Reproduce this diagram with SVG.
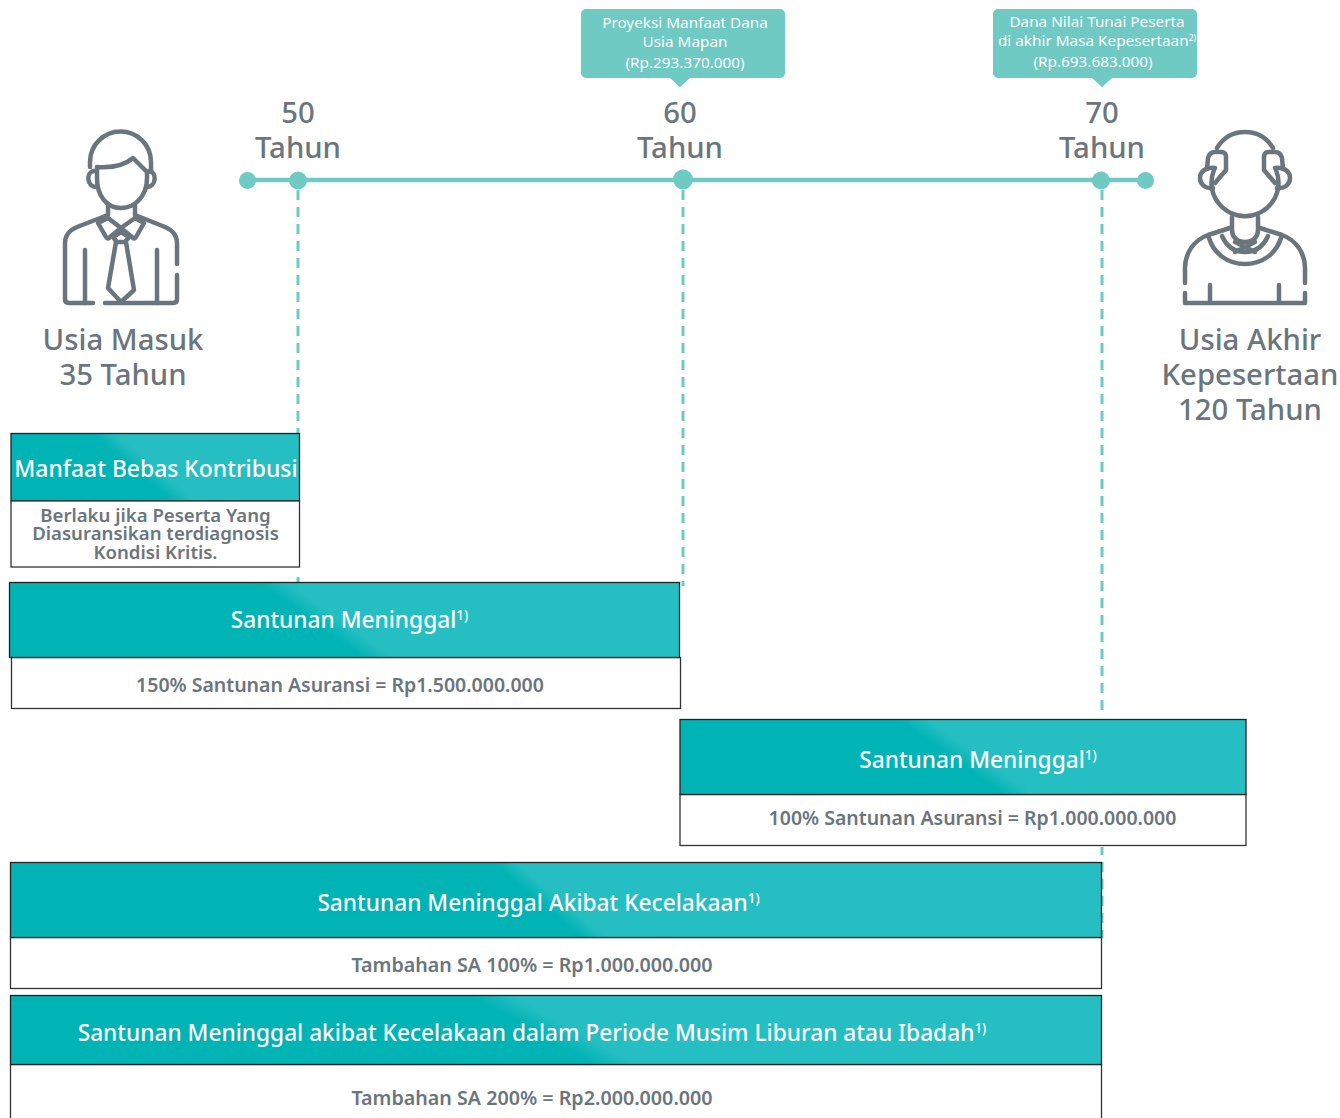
<svg xmlns="http://www.w3.org/2000/svg" width="1340" height="1118" viewBox="0 0 1340 1118">
<defs>
<linearGradient id="gw" gradientUnits="userSpaceOnUse" x1="138" y1="473" x2="148" y2="461"><stop offset="0" stop-color="#00b3b5"/><stop offset="1" stop-color="#25bec2"/></linearGradient>
<linearGradient id="g150" gradientUnits="userSpaceOnUse" x1="320" y1="627" x2="330" y2="613"><stop offset="0" stop-color="#00b3b5"/><stop offset="1" stop-color="#25bec2"/></linearGradient>
<linearGradient id="g100" gradientUnits="userSpaceOnUse" x1="960" y1="764" x2="970" y2="750"><stop offset="0" stop-color="#00b3b5"/><stop offset="1" stop-color="#25bec2"/></linearGradient>
<linearGradient id="ga" gradientUnits="userSpaceOnUse" x1="544" y1="906" x2="554" y2="894"><stop offset="0" stop-color="#00b3b5"/><stop offset="1" stop-color="#25bec2"/></linearGradient>
<linearGradient id="gh" gradientUnits="userSpaceOnUse" x1="548" y1="1039" x2="558" y2="1021"><stop offset="0" stop-color="#00b3b5"/><stop offset="1" stop-color="#25bec2"/></linearGradient>
</defs>
<style>
text{font-family:"Noto Sans","Open Sans","Liberation Sans",sans-serif;text-anchor:middle}
.g{fill:#6b757d}
.w{fill:#fff}
.bar{stroke:#222;stroke-width:1.3}
.box{fill:#fff;stroke:#333;stroke-width:1.3}
.ic{fill:none;stroke:#6b757d;stroke-width:4.5;stroke-linecap:round;stroke-linejoin:round}
.dash{fill:none;stroke:#6ecac3;stroke-width:3;stroke-dasharray:10 7}
.t{font-size:29.300px;font-weight:500}
.h{font-size:22.700px;font-weight:500}
.b{font-size:19.500px;font-weight:600}
.b2{font-size:18.600px;font-weight:600}
.c{font-size:15.300px}
.sup{font-size:13.500px}
</style>
<g id="connectors">
<path class="dash" d="M298 190V433M683 190V586M1102 190V714M1102 862V938"/>
<path d="M298 577V583M1102 847V855" fill="none" stroke="#6ecac3" stroke-width="3"/>
<path d="M248 180H1146" fill="none" stroke="#6ecac3" stroke-width="4.500"/>
</g>
<g id="timeline" fill="#6ecac3">
<circle cx="247.500" cy="180.500" r="8.500"/><circle cx="298" cy="180.500" r="9"/><circle cx="683" cy="179.500" r="10"/><circle cx="1101" cy="180.500" r="9"/><circle cx="1145.500" cy="180.500" r="8.500"/>
</g>
<g id="age50"><text class="g t" x="298" y="123">50</text><text class="g t" x="298" y="158">Tahun</text></g>
<g id="age60"><text class="g t" x="680" y="123">60</text><text class="g t" x="680" y="158">Tahun</text></g>
<g id="age70"><text class="g t" x="1102" y="123">70</text><text class="g t" x="1102" y="158">Tahun</text></g>
<g id="callout60">
<path fill="#6ecac3" d="M586 9H780a5 5 0 0 1 5 5V73a5 5 0 0 1-5 5H690L680 87 670 78H586a5 5 0 0 1-5-5V14a5 5 0 0 1 5-5Z"/>
<text class="w c" x="685" y="28">Proyeksi Manfaat Dana</text><text class="w c" x="685" y="47">Usia Mapan</text><text class="w c" x="685" y="68">(Rp.293.370.000)</text>
</g>
<g id="callout70">
<path fill="#6ecac3" d="M998 9H1192a5 5 0 0 1 5 5V73a5 5 0 0 1-5 5H1112L1102 87 1092 78H998a5 5 0 0 1-5-5V14a5 5 0 0 1 5-5Z"/>
<text class="w c" x="1097" y="27">Dana Nilai Tunai Peserta</text><text class="w c" x="1097" y="46">di akhir Masa Kepesertaan<tspan font-size="8.500" dy="-5">2)</tspan></text><text class="w c" x="1093" y="67">(Rp.693.683.000)</text>
</g>
<g id="person-young">
<g class="ic">
<path d="M90 167V162a30.500 30.500 0 0 1 61 0V172"/>
<path d="M97 167C112 168 125 165 133 158L147 172V178C147 195 136 208 121 208S97 195 97 178Z"/>
<path d="M94 171C86 172 86 187 97 187M149 171C157 172 157 187 146 187"/>
<path d="M108 206V215L77 227C70 230 65 235 65 243V299Q65 303 69 303H93M105 303H173Q177 303 177 299V275M177 264V243C177 235 172 230 165 227L135 215V206"/>
<path d="M108 218L98 223 106 237Q108 240 110 237L121 228 108 218M135 218L144 223 136 237Q134 240 132 237L121 228 135 218"/>
<path d="M121 232L113 237 117 242H125L129 237Z"/>
<path d="M116 242L108 288 121 302 134 290 126 242"/>
<path d="M85 250V303M157 250V303"/>
</g>
</g>
<g id="person-old">
<g class="ic">
<path d="M1217 148C1223 138 1232 132 1245 132S1267 138 1273 148"/>
<path d="M1214 170A33.500 33.500 0 1 0 1276 170"/>
<path d="M1207 169L1208 158C1209 154 1212 152 1215 152H1222C1225 152 1226 155 1226 157V170L1215 183"/>
<path d="M1283 169L1282 158C1281 154 1278 152 1275 152H1268C1265 152 1264 155 1264 157V170L1275 183"/>
<path d="M1215 168C1205 167 1200 172 1200 178S1205 189 1213 188M1275 168C1285 167 1290 172 1290 178S1285 189 1277 188"/>
<path d="M1232 217V230C1232 237 1237 242 1245 242S1258 237 1258 230V217"/>
<path d="M1230 228L1208 235C1194 240 1185 253 1185 268V283M1260 228L1282 235C1296 240 1305 253 1305 268V283"/>
<path d="M1209 238C1214 254 1228 264 1245 264S1276 254 1281 238"/>
<path d="M1222 236C1226 245 1233 252 1245 252S1264 245 1268 236"/>
<path d="M1235 242L1255 252M1255 242L1235 252"/>
<path d="M1185 293V303H1305V293M1210 285V303M1279 285V303"/>
</g>
</g>
<g id="label-entry"><text class="g t" x="123" y="350">Usia Masuk</text><text class="g t" x="123" y="385">35 Tahun</text></g>
<g id="label-end"><text class="g t" x="1250" y="350">Usia Akhir</text><text class="g t" x="1250" y="385">Kepesertaan</text><text class="g t" x="1250" y="420">120 Tahun</text></g>
<g id="benefit-waiver">
<rect class="bar" fill="url(#gw)" x="11" y="433.500" width="288.500" height="67.500"/>
<rect class="box" x="11" y="501" width="288.500" height="66"/>
<text class="w h" x="156" y="477" style="font-size:22.900px">Manfaat Bebas Kontribusi</text>
<text class="g b2" x="155.500" y="522">Berlaku jika Peserta Yang</text><text class="g b2" x="155.500" y="540">Diasuransikan terdiagnosis</text><text class="g b2" x="155.500" y="559">Kondisi Kritis.</text>
</g>
<g id="benefit-death-150">
<rect class="box" x="11.500" y="657.500" width="669" height="51"/>
<rect class="bar" fill="url(#g150)" x="9.500" y="582.500" width="670" height="75"/>
<text class="w h" x="349.500" y="628">Santunan Meninggal<tspan class="sup" dy="-8">1)</tspan></text>
<text class="g b" x="340" y="691.500">150% Santunan Asuransi = Rp1.500.000.000</text>
</g>
<g id="benefit-death-100">
<rect class="box" x="680" y="794.500" width="566" height="51"/>
<rect class="bar" fill="url(#g100)" x="680" y="719.500" width="566" height="75"/>
<text class="w h" x="978" y="768">Santunan Meninggal<tspan class="sup" dy="-8">1)</tspan></text>
<text class="g b" x="972.500" y="824.500">100% Santunan Asuransi = Rp1.000.000.000</text>
</g>
<g id="benefit-accident">
<rect class="box" x="10.500" y="937.500" width="1091" height="51"/>
<rect class="bar" fill="url(#ga)" x="10.500" y="862.500" width="1091" height="75"/>
<text class="w h" x="538.500" y="911">Santunan Meninggal Akibat Kecelakaan<tspan class="sup" dy="-8">1)</tspan></text>
<text class="g b" x="532" y="972" style="font-size:19.700px">Tambahan SA 100% = Rp1.000.000.000</text>
</g>
<g id="benefit-holiday">
<rect class="box" x="10.500" y="1064.500" width="1091" height="70"/>
<rect class="bar" fill="url(#gh)" x="10.500" y="995.500" width="1091" height="69"/>
<text class="w h" x="532" y="1041">Santunan Meninggal akibat Kecelakaan dalam Periode Musim Liburan atau Ibadah<tspan class="sup" dy="-8">1)</tspan></text>
<text class="g b" x="532" y="1105" style="font-size:19.700px">Tambahan SA 200% = Rp2.000.000.000</text>
</g>
</svg>
